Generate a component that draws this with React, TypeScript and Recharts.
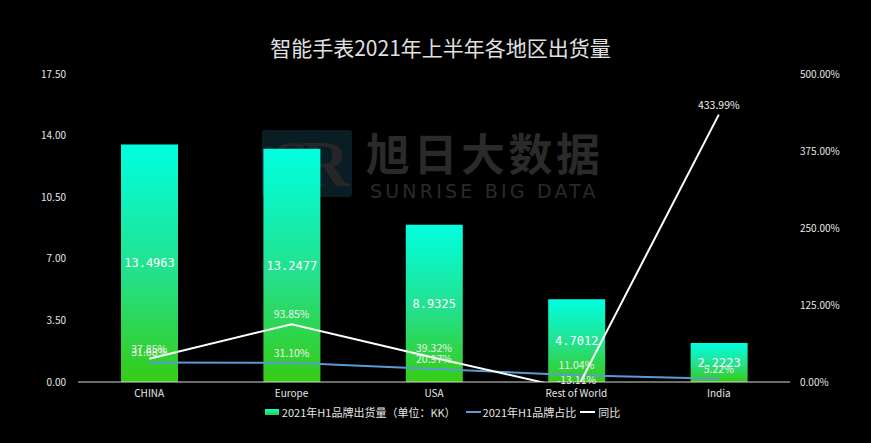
import React from "react";
import {
  ComposedChart,
  Bar,
  Line,
  XAxis,
  YAxis,
  Legend,
  LabelList,
} from "recharts";

const categories = ["CHINA", "Europe", "USA", "Rest of World", "India"];
const shipments = [13.4963, 13.2477, 8.9325, 4.7012, 2.2223];
const shares = [31.68, 31.1, 20.97, 11.04, 5.22];
const yoy = [37.85, 93.85, 39.32, -13.11, 433.99];
const leftTicks = [0, 3.5, 7, 10.5, 14, 17.5];
const rightTicks = [0, 125, 250, 375, 500];
const seriesNames = ["2021年H1品牌出货量（单位：KK）", "2021年H1品牌占比", "同比"];

const data = categories.map((c, i) => ({
  name: c,
  shipment: shipments[i],
  share: shares[i],
  yoy: yoy[i],
}));

const SANS = "'Noto Sans CJK SC', 'Noto Sans', sans-serif";

const LegendContent = () => (
  <div
    style={{
      display: "flex",
      justifyContent: "center",
      alignItems: "center",
      fontFamily: SANS,
      fontSize: 11,
      color: "#e6e6e6",
      paddingLeft: 14,
    }}
  >
    <span style={{ display: "inline-flex", alignItems: "center", marginRight: 10 }}>
      <span
        style={{
          display: "inline-block",
          width: 14,
          height: 6,
          background: "linear-gradient(#00ffe0, #33cc22)",
          marginRight: 3,
        }}
      />
      {seriesNames[0]}
    </span>
    <span style={{ display: "inline-flex", alignItems: "center", marginRight: 4 }}>
      <span style={{ display: "inline-block", width: 15, height: 2, background: "#5b9bd5", marginRight: 2 }} />
      {seriesNames[1]}
    </span>
    <span style={{ display: "inline-flex", alignItems: "center" }}>
      <span style={{ display: "inline-block", width: 15, height: 2, background: "#ffffff", marginRight: 3 }} />
      {seriesNames[2]}
    </span>
  </div>
);

const pct = (v: number) => `${Number(v).toFixed(2)}%`;

export default function App() {
  return (
    <div style={{ position: "absolute", left: 0, top: 0, width: 871, height: 443, background: "#000", overflow: "hidden" }}>
      {/* watermark */}
      <div
        style={{
          position: "absolute",
          left: 262,
          top: 130,
          width: 90,
          height: 67,
          background: "#0b1d24",
          borderRadius: 3,
          color: "#262626",
          fontFamily: "'Liberation Serif', serif",
          fontWeight: "bold",
          fontSize: 66,
          lineHeight: "67px",
          textAlign: "center",
          letterSpacing: -8,
        }}
      >
        SR
      </div>
      <div
        style={{
          position: "absolute",
          left: 366,
          top: 126,
          fontFamily: SANS,
          fontSize: 44,
          lineHeight: "52px",
          color: "#2a2a2a",
          fontWeight: "bold",
          letterSpacing: 3.5,
        }}
      >
        旭日大数据
      </div>
      <div
        style={{
          position: "absolute",
          left: 370,
          top: 180,
          fontFamily: "'DejaVu Sans', sans-serif",
          fontSize: 19,
          lineHeight: "22px",
          color: "#2a2a2a",
          letterSpacing: 3.2,
        }}
      >
        SUNRISE BIG DATA
      </div>
      {/* title */}
      <div
        style={{
          position: "absolute",
          left: 0,
          top: 32,
          width: 881,
          textAlign: "center",
          fontFamily: SANS,
          fontSize: 21,
          color: "#e0e0e0",
        }}
      >
        智能手表2021年上半年各地区出货量
      </div>
      <div style={{ position: "absolute", left: 0, top: 0 }}>
        <ComposedChart
          width={871}
          height={443}
          data={data}
          margin={{ top: 74, right: 21, bottom: 31, left: 18 }}
        >
          <defs>
            <linearGradient id="barGrad" x1="0" y1="0" x2="0" y2="1">
              <stop offset="0%" stopColor="#00ffe0" />
              <stop offset="55%" stopColor="#25e08a" />
              <stop offset="100%" stopColor="#35cc14" />
            </linearGradient>
          </defs>
          <XAxis
            dataKey="name"
            height={30}
            tickLine={false}
            axisLine={{ stroke: "#d9d9d9", strokeWidth: 1 }}
            tick={{ fill: "#e6e6e6", fontSize: 10, fontFamily: SANS }}
            interval={0}
          />
          <YAxis
            yAxisId="left"
            width={60}
            domain={[0, 17.5]}
            ticks={leftTicks}
            tickFormatter={(v: number) => v.toFixed(2)}
            axisLine={false}
            tickLine={false}
            tickMargin={6}
            tick={{ fill: "#e6e6e6", fontSize: 10, fontFamily: SANS }}
          />
          <YAxis
            yAxisId="right"
            orientation="right"
            width={60}
            domain={[0, 500]}
            allowDataOverflow
            ticks={rightTicks}
            tickFormatter={pct}
            axisLine={false}
            tickLine={false}
            tickMargin={4}
            tick={{ fill: "#e6e6e6", fontSize: 10, fontFamily: SANS, textAnchor: "start" }}
          />
          <Legend
            layout="horizontal"
            verticalAlign="middle"
            align="center"
            content={<LegendContent />}
            wrapperStyle={{ top: 404, left: 0, width: 871 }}
          />
          <Bar
            yAxisId="left"
            dataKey="shipment"
            name={seriesNames[0]}
            fill="url(#barGrad)"
            barSize={57}
            isAnimationActive={false}
          >
            <LabelList
              dataKey="shipment"
              position="center"
              fill="#ffffff"
              fontSize={12}
              fontFamily="'DejaVu Sans Mono', monospace"
              formatter={(v: number) => v.toFixed(4)}
            />
          </Bar>
          <Line
            yAxisId="right"
            dataKey="share"
            name={seriesNames[1]}
            stroke="#5b9bd5"
            strokeWidth={2}
            dot={false}
            isAnimationActive={false}
          >
            <LabelList
              dataKey="share"
              position="top"
              offset={6}
              fill="#f0f0f0"
              fontSize={10.5}
              fontFamily={SANS}
              formatter={pct}
            />
          </Line>
          <Line
            yAxisId="right"
            dataKey="yoy"
            name={seriesNames[2]}
            stroke="#ffffff"
            strokeWidth={2}
            dot={false}
            isAnimationActive={false}
          >
            <LabelList
              dataKey="yoy"
              position="top"
              offset={6}
              fill="#f0f0f0"
              fontSize={10.5}
              fontFamily={SANS}
              formatter={pct}
            />
          </Line>
        </ComposedChart>
      </div>
    </div>
  );
}
